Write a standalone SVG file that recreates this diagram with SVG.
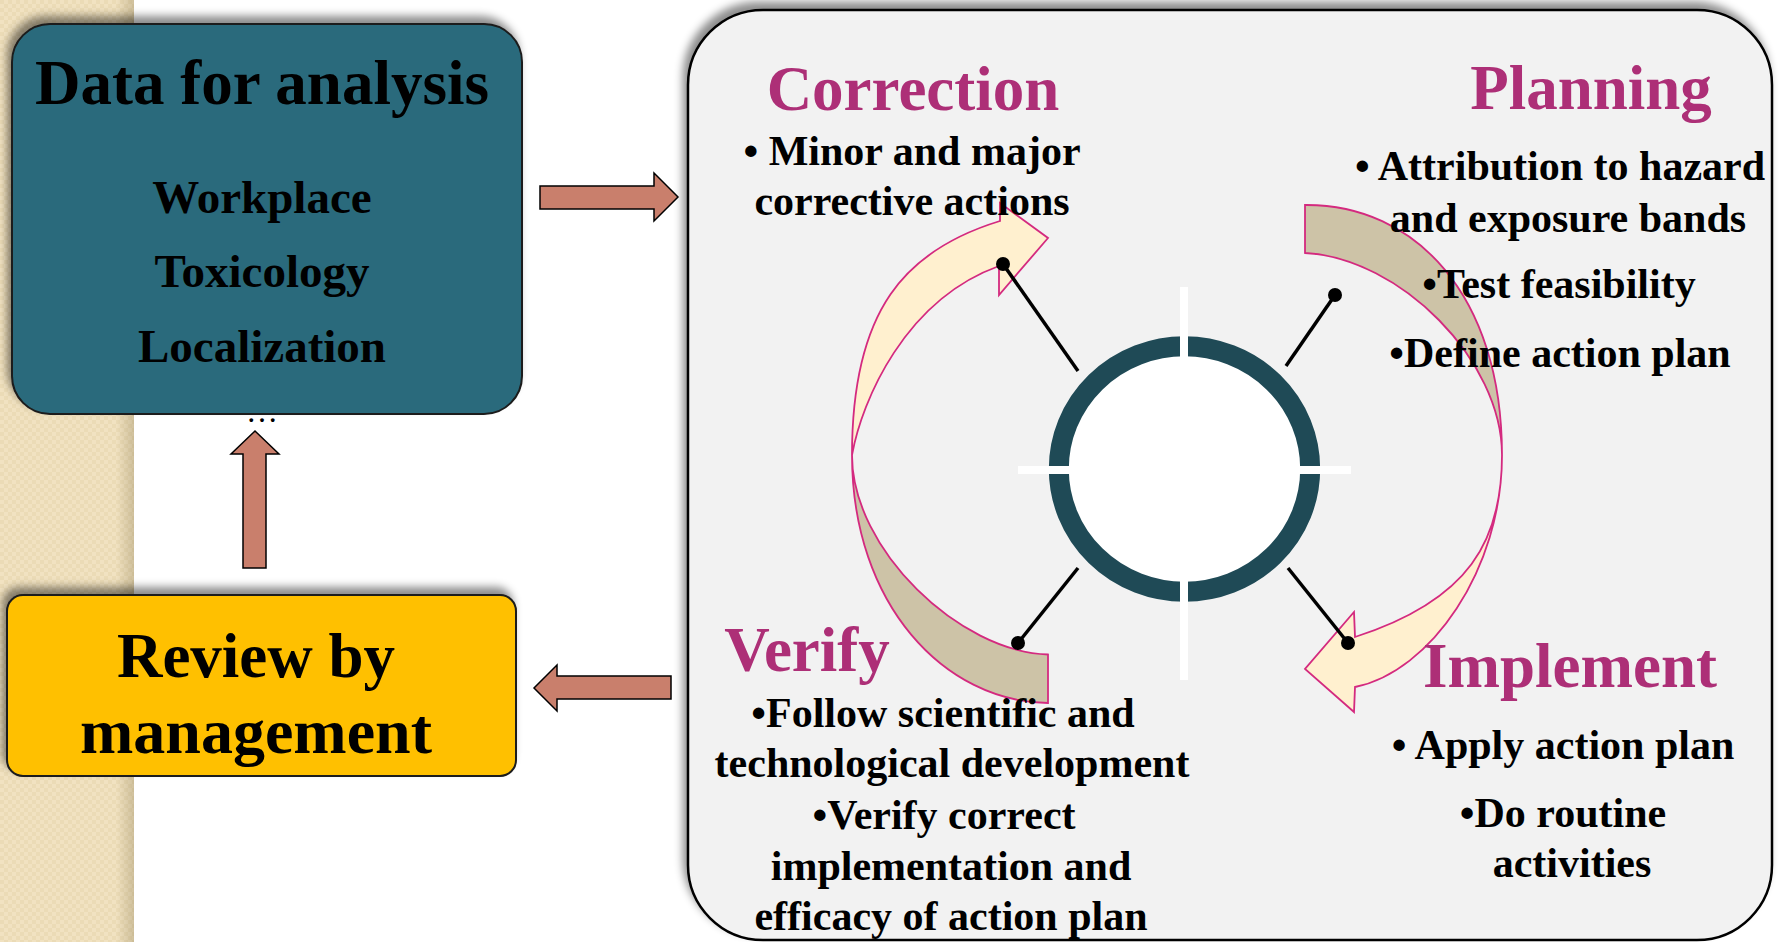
<svg xmlns="http://www.w3.org/2000/svg" width="1785" height="942" viewBox="0 0 1785 942">
<defs>
<filter id="sh" x="-10%" y="-10%" width="120%" height="120%">
<feDropShadow dx="-4" dy="-7" stdDeviation="4" flood-color="#000" flood-opacity="0.45"/>
</filter>
<pattern id="tex" width="8" height="8" patternUnits="userSpaceOnUse">
<rect width="8" height="8" fill="#F1E2C1"/>
<rect width="4" height="4" fill="#EBDBB6"/>
<rect x="4" y="4" width="4" height="4" fill="#EBDBB6"/>
</pattern>
<linearGradient id="edge" x1="0" x2="1" y1="0" y2="0">
<stop offset="0" stop-color="#7a6a40" stop-opacity="0"/>
<stop offset="1" stop-color="#7a6a40" stop-opacity="0.28"/>
</linearGradient>
<style>
.t{font-family:"Liberation Serif","Times New Roman",serif;font-weight:bold;text-anchor:middle;fill:#000}
.h{font-size:63px;fill:#AD2F77}
.b{font-size:42px}
.arrow{fill:#C97F6C;stroke:#000;stroke-width:1.5}
.cream{fill:#FFF0CF;stroke:#D42A7F;stroke-width:1.8}
.tan{fill:#CDC3A7;stroke:#D42A7F;stroke-width:1.8}
.ln{stroke:#000;stroke-width:3.5}
.box{stroke:#1b1b1b;stroke-width:2}
</style>
</defs>
<rect width="1785" height="942" fill="#fff"/>
<rect x="0" y="0" width="134" height="942" fill="url(#tex)"/>
<rect x="116" y="0" width="18" height="942" fill="url(#edge)"/>

<g id="cycle-panel">
<rect x="688" y="10" width="1084" height="930" rx="75" fill="#F2F2F2" stroke="#000" stroke-width="2.5" filter="url(#sh)"/>
<g id="cycle-arrows">
<path class="cream" d="M852,455 C852,310 905,250 1000,221 L1000,203 L1048,238 L999,295 L999,266 C905,300 862,400 852,455 Z"/>
<path class="tan" d="M852,455 C852,605 945,702 1048,703 L1048,654.5 C960,652 852,550 852,455 Z"/>
<path class="tan" d="M1502,455 C1502,295 1415,204 1305,205 L1305,253 C1400,258 1502,360 1502,455 Z"/>
<path class="cream" d="M1502,455 C1502,570 1430,672 1355,687 L1354,712 L1305,669 L1354,612 L1355,637 C1470,600 1502,540 1502,455 Z"/>
</g>
<g id="hub">
<ellipse cx="1184.5" cy="469" rx="125.7" ry="122.7" fill="#fff" stroke="#1F4A56" stroke-width="20"/>
<rect x="1018" y="466" width="333" height="8" fill="#fff"/>
<rect x="1180" y="287" width="8" height="393" fill="#fff"/>
</g>
<g id="pointers">
<line class="ln" x1="1003" y1="264" x2="1078" y2="371"/>
<line class="ln" x1="1335" y1="295" x2="1286" y2="366"/>
<line class="ln" x1="1078" y1="568" x2="1018" y2="643"/>
<line class="ln" x1="1288" y1="568" x2="1348" y2="643"/>
<circle cx="1003" cy="264" r="7"/>
<circle cx="1335" cy="295" r="7"/>
<circle cx="1018" cy="643" r="7"/>
<circle cx="1348" cy="643" r="7"/>
</g>
<g id="correction">
<text class="t h" x="913" y="110">Correction</text>
<text class="t b" x="912" y="165">• Minor and major</text>
<text class="t b" x="912" y="215">corrective actions</text>
</g>
<g id="planning">
<text class="t h" x="1591" y="109">Planning</text>
<text class="t b" x="1560" y="180">• Attribution to hazard</text>
<text class="t b" x="1568" y="232">and exposure bands</text>
<text class="t b" x="1559" y="298">•Test feasibility</text>
<text class="t b" x="1560" y="367">•Define action plan</text>
</g>
<g id="verify">
<text class="t h" x="807" y="671">Verify</text>
<text class="t b" x="943" y="727">•Follow scientific and</text>
<text class="t b" x="952" y="777">technological development</text>
<text class="t b" x="944" y="829">•Verify correct</text>
<text class="t b" x="951" y="880">implementation and</text>
<text class="t b" x="951" y="930">efficacy of action plan</text>
</g>
<g id="implement">
<text class="t h" x="1570" y="687">Implement</text>
<text class="t b" x="1563" y="759">• Apply action plan</text>
<text class="t b" x="1563" y="827">•Do routine</text>
<text class="t b" x="1572" y="877">activities</text>
</g>
</g>

<g id="data-analysis">
<rect class="box" x="12" y="24" width="510" height="390" rx="38" fill="#2A6B7C" filter="url(#sh)"/>
<text class="t" x="262" y="104" font-size="63">Data for analysis</text>
<text class="t" x="262" y="213" font-size="47">Workplace</text>
<text class="t" x="262" y="287" font-size="47">Toxicology</text>
<text class="t" x="262" y="362" font-size="47">Localization</text>
<text x="262" y="422" font-family="Liberation Serif, serif" font-size="32" text-anchor="middle" fill="#000">…</text>
</g>

<g id="review">
<rect class="box" x="7" y="595" width="509" height="181" rx="16" fill="#FFC000" filter="url(#sh)"/>
<text class="t" x="256" y="677" font-size="63">Review by</text>
<text class="t" x="256" y="753" font-size="64">management</text>
</g>

<g id="connectors">
<polygon class="arrow" points="540,186 654,186 654,173 678,197 654,221 654,209 540,209"/>
<polygon class="arrow" points="671,676 557,676 557,665 534,688 557,711 557,699 671,699"/>
<polygon class="arrow" points="243,568 243,454 231,454 255,431 279,454 266,454 266,568"/>
</g>
</svg>
